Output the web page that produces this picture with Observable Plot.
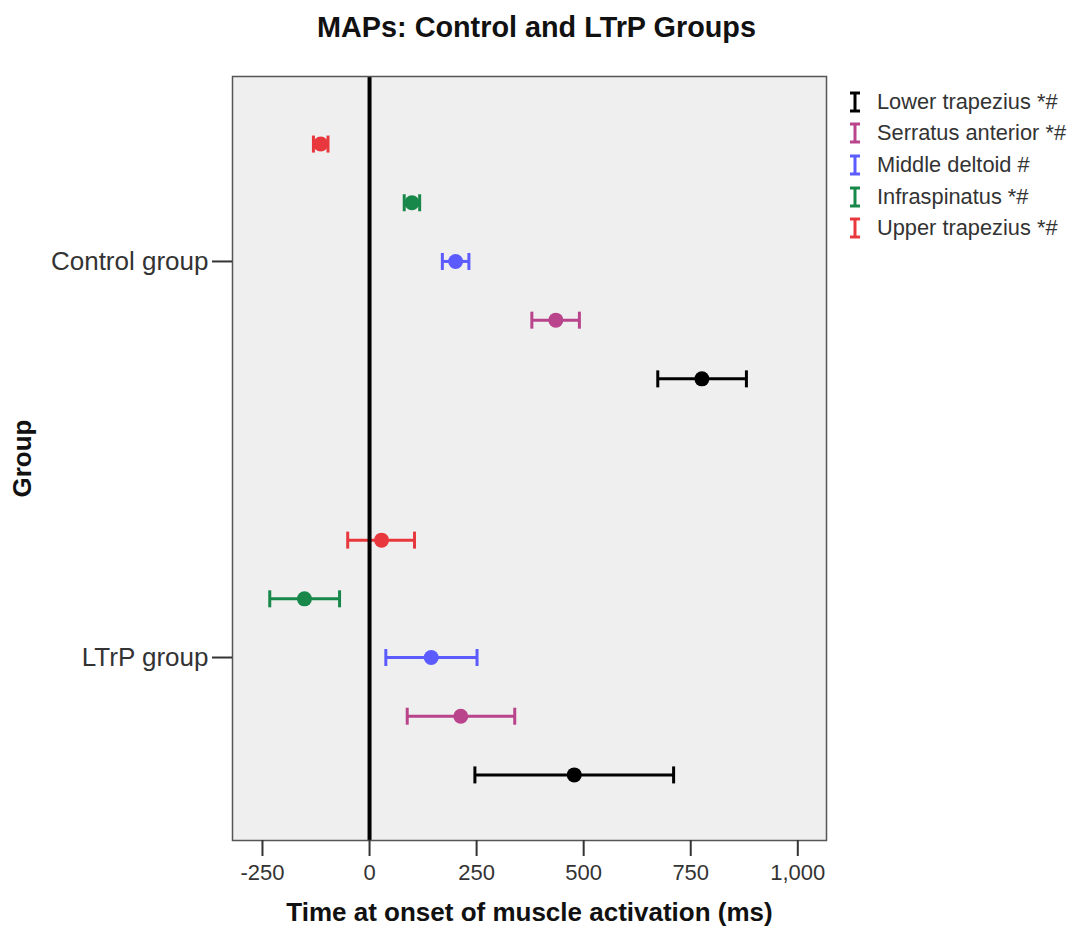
<!DOCTYPE html>
<html>
<head>
<meta charset="utf-8">
<script src="https://cdn.jsdelivr.net/npm/d3@7"></script>
<script src="https://cdn.jsdelivr.net/npm/@observablehq/plot@0.6"></script>
<style>
  body { margin: 0; background: #fff; font-family: "Liberation Sans", Arial, sans-serif; }
  #wrap { position: relative; width: 1079px; height: 929px; }
  #title { position: absolute; left: 0; top: 10px; width: 1073px; text-align: center; font-weight: bold; font-size: 28.8px; line-height: 34px; color: #111; }
  #legend { position: absolute; left: 848px; top: 86px; }
  .lg-row { display: flex; align-items: center; height: 31.6px; }
  .lg-row svg { margin-right: 15px; }
  .lg-row span { font-size: 21.8px; color: #333; white-space: nowrap; }
  svg text { font-family: "Liberation Sans", Arial, sans-serif; }
</style>
</head>
<body>
<div id="wrap">
  <div id="title">MAPs: Control and LTrP Groups</div>
  <div id="legend"></div>
</div>
<script>
// ---- data ----
const groups = ["Control group", "LTrP group"];
const muscles = ["Upper trapezius", "Infraspinatus", "Middle deltoid", "Serratus anterior", "Lower trapezius"];
const legendLabels = ["Lower trapezius *#", "Serratus anterior *#", "Middle deltoid #", "Infraspinatus *#", "Upper trapezius *#"];
const legendMuscles = ["Lower trapezius", "Serratus anterior", "Middle deltoid", "Infraspinatus", "Upper trapezius"];
const muscleColors = ["#e8383d", "#17884a", "#5b5bff", "#b9448b", "#000000"];

const controlMean = [-114, 99, 201, 435, 776];
const controlLow  = [-131, 81, 170, 379, 673];
const controlHigh = [-97, 117, 232, 490, 880];

const ltrpMean = [28, -152, 144, 213, 478];
const ltrpLow  = [-51, -233, 38, 88, 246];
const ltrpHigh = [105, -70, 251, 339, 710];

const xTicks = [-250, 0, 250, 500, 750, 1000];

// ---- build table ----
const means = [controlMean, ltrpMean];
const lows = [controlLow, ltrpLow];
const highs = [controlHigh, ltrpHigh];
const rows = groups.flatMap((g, gi) => muscles.map((m, mi) => ({
  group: g, gi, muscle: m, mi,
  mean: means[gi][mi], lo: lows[gi][mi], hi: highs[gi][mi]
})));
const rowStep = 0.1482;
const ypos = d => d.gi + (d.mi - 2) * rowStep;

const capSymbol = {
  draw(context, size) {
    const h = Math.sqrt(size / Math.PI);
    context.moveTo(0, -h);
    context.lineTo(0, h);
  }
};

const color = {domain: muscles, range: muscleColors};
const fmt = d => d.toLocaleString("en-US");

const chart = Plot.plot({
  width: 1079,
  height: 929,
  marginLeft: 232,
  marginRight: 253,
  marginTop: 76,
  marginBottom: 89,
  style: {fontFamily: "Liberation Sans, Arial, sans-serif", background: "transparent"},
  x: {domain: [-320, 1067], label: null},
  y: {type: "linear", domain: [-0.467, 1.462], reverse: true, label: null},
  color,
  marks: [
    Plot.frame({fill: "#efefef", stroke: null}),
    Plot.link(rows, {x1: "lo", x2: "hi", y1: ypos, y2: ypos, stroke: "muscle", strokeWidth: 3}),
    Plot.dot(rows, {x: "lo", y: ypos, symbol: capSymbol, r: 8.5, fill: "none", stroke: "muscle", strokeWidth: 3}),
    Plot.dot(rows, {x: "hi", y: ypos, symbol: capSymbol, r: 8.5, fill: "none", stroke: "muscle", strokeWidth: 3}),
    Plot.ruleX([0], {stroke: "#000", strokeWidth: 4}),
    Plot.dot(rows, {x: "mean", y: ypos, r: 7.5, fill: "muscle", stroke: null}),
    Plot.frame({stroke: "#555", strokeWidth: 1.5}),
    Plot.axisX({ticks: xTicks, tickFormat: fmt, tickSize: 16, tickPadding: 8, fontSize: 22, fill: "#333", stroke: "#333", strokeWidth: 2, label: null}),
    Plot.axisY({ticks: [0, 1], tickFormat: i => groups[i], tickSize: 20, tickPadding: 4, fontSize: 26, fill: "#333", stroke: "#333", strokeWidth: 2, label: null}),
    Plot.text(["Time at onset of muscle activation (ms)"], {text: d => d, frameAnchor: "bottom", dy: 80, fontSize: 26, fontWeight: "bold", fill: "#111"}),
    Plot.text(["Group"], {text: d => d, frameAnchor: "left", dx: -210, rotate: -90, textAnchor: "middle", fontSize: 26, fontWeight: "bold", fill: "#111"})
  ]
});
chart.style.position = "absolute";
chart.style.left = "0";
chart.style.top = "0";
document.getElementById("wrap").prepend(chart);

// ---- legend ----
const legend = d3.select("#legend");
legendLabels.forEach((lab, i) => {
  const c = muscleColors[muscles.indexOf(legendMuscles[i])];
  const row = legend.append("div").attr("class", "lg-row");
  const s = row.append("svg").attr("width", 14).attr("height", 22);
  s.append("line").attr("x1", 7).attr("x2", 7).attr("y1", 2).attr("y2", 20).attr("stroke", c).attr("stroke-width", 3);
  s.append("line").attr("x1", 2).attr("x2", 12).attr("y1", 2).attr("y2", 2).attr("stroke", c).attr("stroke-width", 3);
  s.append("line").attr("x1", 2).attr("x2", 12).attr("y1", 20).attr("y2", 20).attr("stroke", c).attr("stroke-width", 3);
  row.append("span").text(lab);
});
</script>
</body>
</html>
